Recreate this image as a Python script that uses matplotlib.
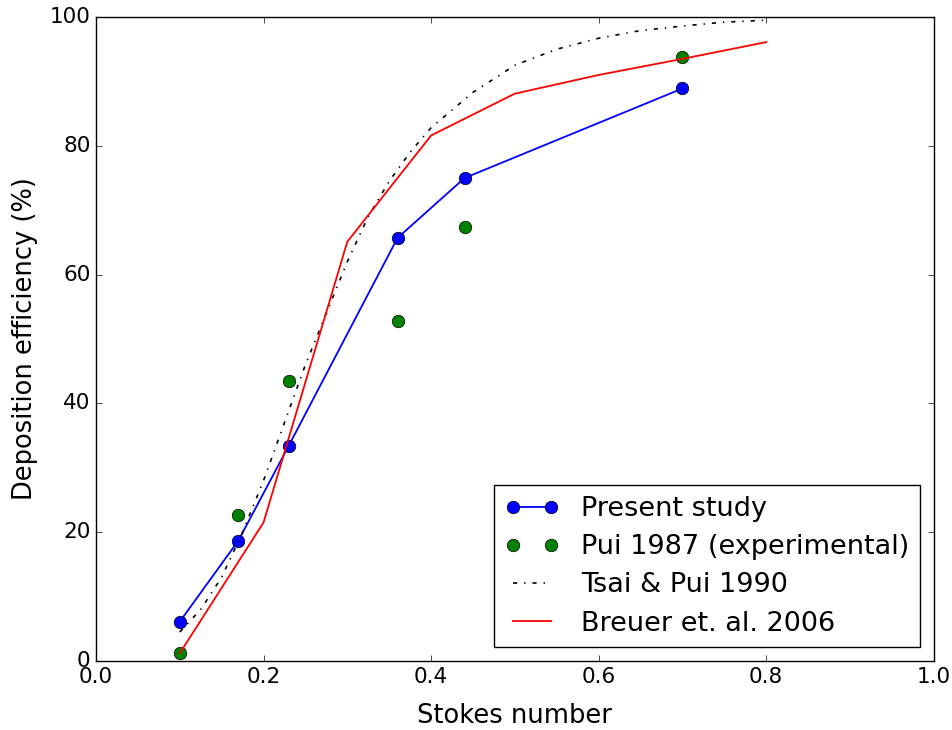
import numpy as np
import matplotlib
matplotlib.use("Agg")
import matplotlib.pyplot as plt

plt.style.use("classic")

# Dane
stk_present = [0.10, 0.17, 0.23, 0.36, 0.44, 0.70]
eff_present = [6.1, 18.7, 33.4, 65.7, 75.0, 88.9]

stk_pui = [0.10, 0.17, 0.23, 0.36, 0.44, 0.70]
eff_pui = [1.2, 22.6, 43.5, 52.8, 67.4, 93.8]

stk_tsai = [0.10, 0.125, 0.15, 0.175, 0.20, 0.225, 0.25, 0.275, 0.30, 0.325,
            0.35, 0.375, 0.40, 0.45, 0.50, 0.55, 0.60, 0.65, 0.70, 0.75, 0.80]
eff_tsai = [4.5, 8.0, 13.0, 20.0, 28.0, 37.0, 46.0, 54.0, 62.0, 69.0,
            74.5, 79.0, 82.8, 88.3, 92.5, 95.0, 96.7, 97.9, 98.6, 99.2, 99.5]

stk_breuer = [0.10, 0.20, 0.30, 0.40, 0.50, 0.60, 0.70, 0.80]
eff_breuer = [1.2, 21.5, 65.1, 81.6, 88.1, 91.0, 93.5, 96.1]

fig = plt.figure(figsize=(9.52, 7.3), dpi=100, facecolor="white")
ax = fig.add_axes([0.1008, 0.0945, 0.880, 0.8822])

ax.plot(stk_present, eff_present, "o-", color="blue", markersize=9,
        linewidth=1.3, label="Present study")
ax.plot(stk_pui, eff_pui, "o", color="green", markersize=9,
        label="Pui 1987 (experimental)")
ax.plot(stk_tsai, eff_tsai, "-.", color="black", linewidth=1.2,
        label="Tsai & Pui 1990")
ax.plot(stk_breuer, eff_breuer, "-", color="red", linewidth=1.3,
        label="Breuer et. al. 2006")

ax.set_xlim(0, 1.0)
ax.set_ylim(0, 100)
ax.set_xticks(np.arange(0, 1.01, 0.2))
ax.set_yticks(np.arange(0, 101, 20))
ax.tick_params(labelsize=15.5)
ax.set_xlabel("Stokes number", fontsize=18.5, labelpad=12)
ax.set_ylabel("Deposition efficiency (%)", fontsize=18.5, labelpad=8)

ax.legend(loc="lower right", fontsize=19.5, numpoints=2, labelspacing=0.45,
          borderaxespad=0.5)

fig.savefig("out.png", dpi=100, facecolor="white")
